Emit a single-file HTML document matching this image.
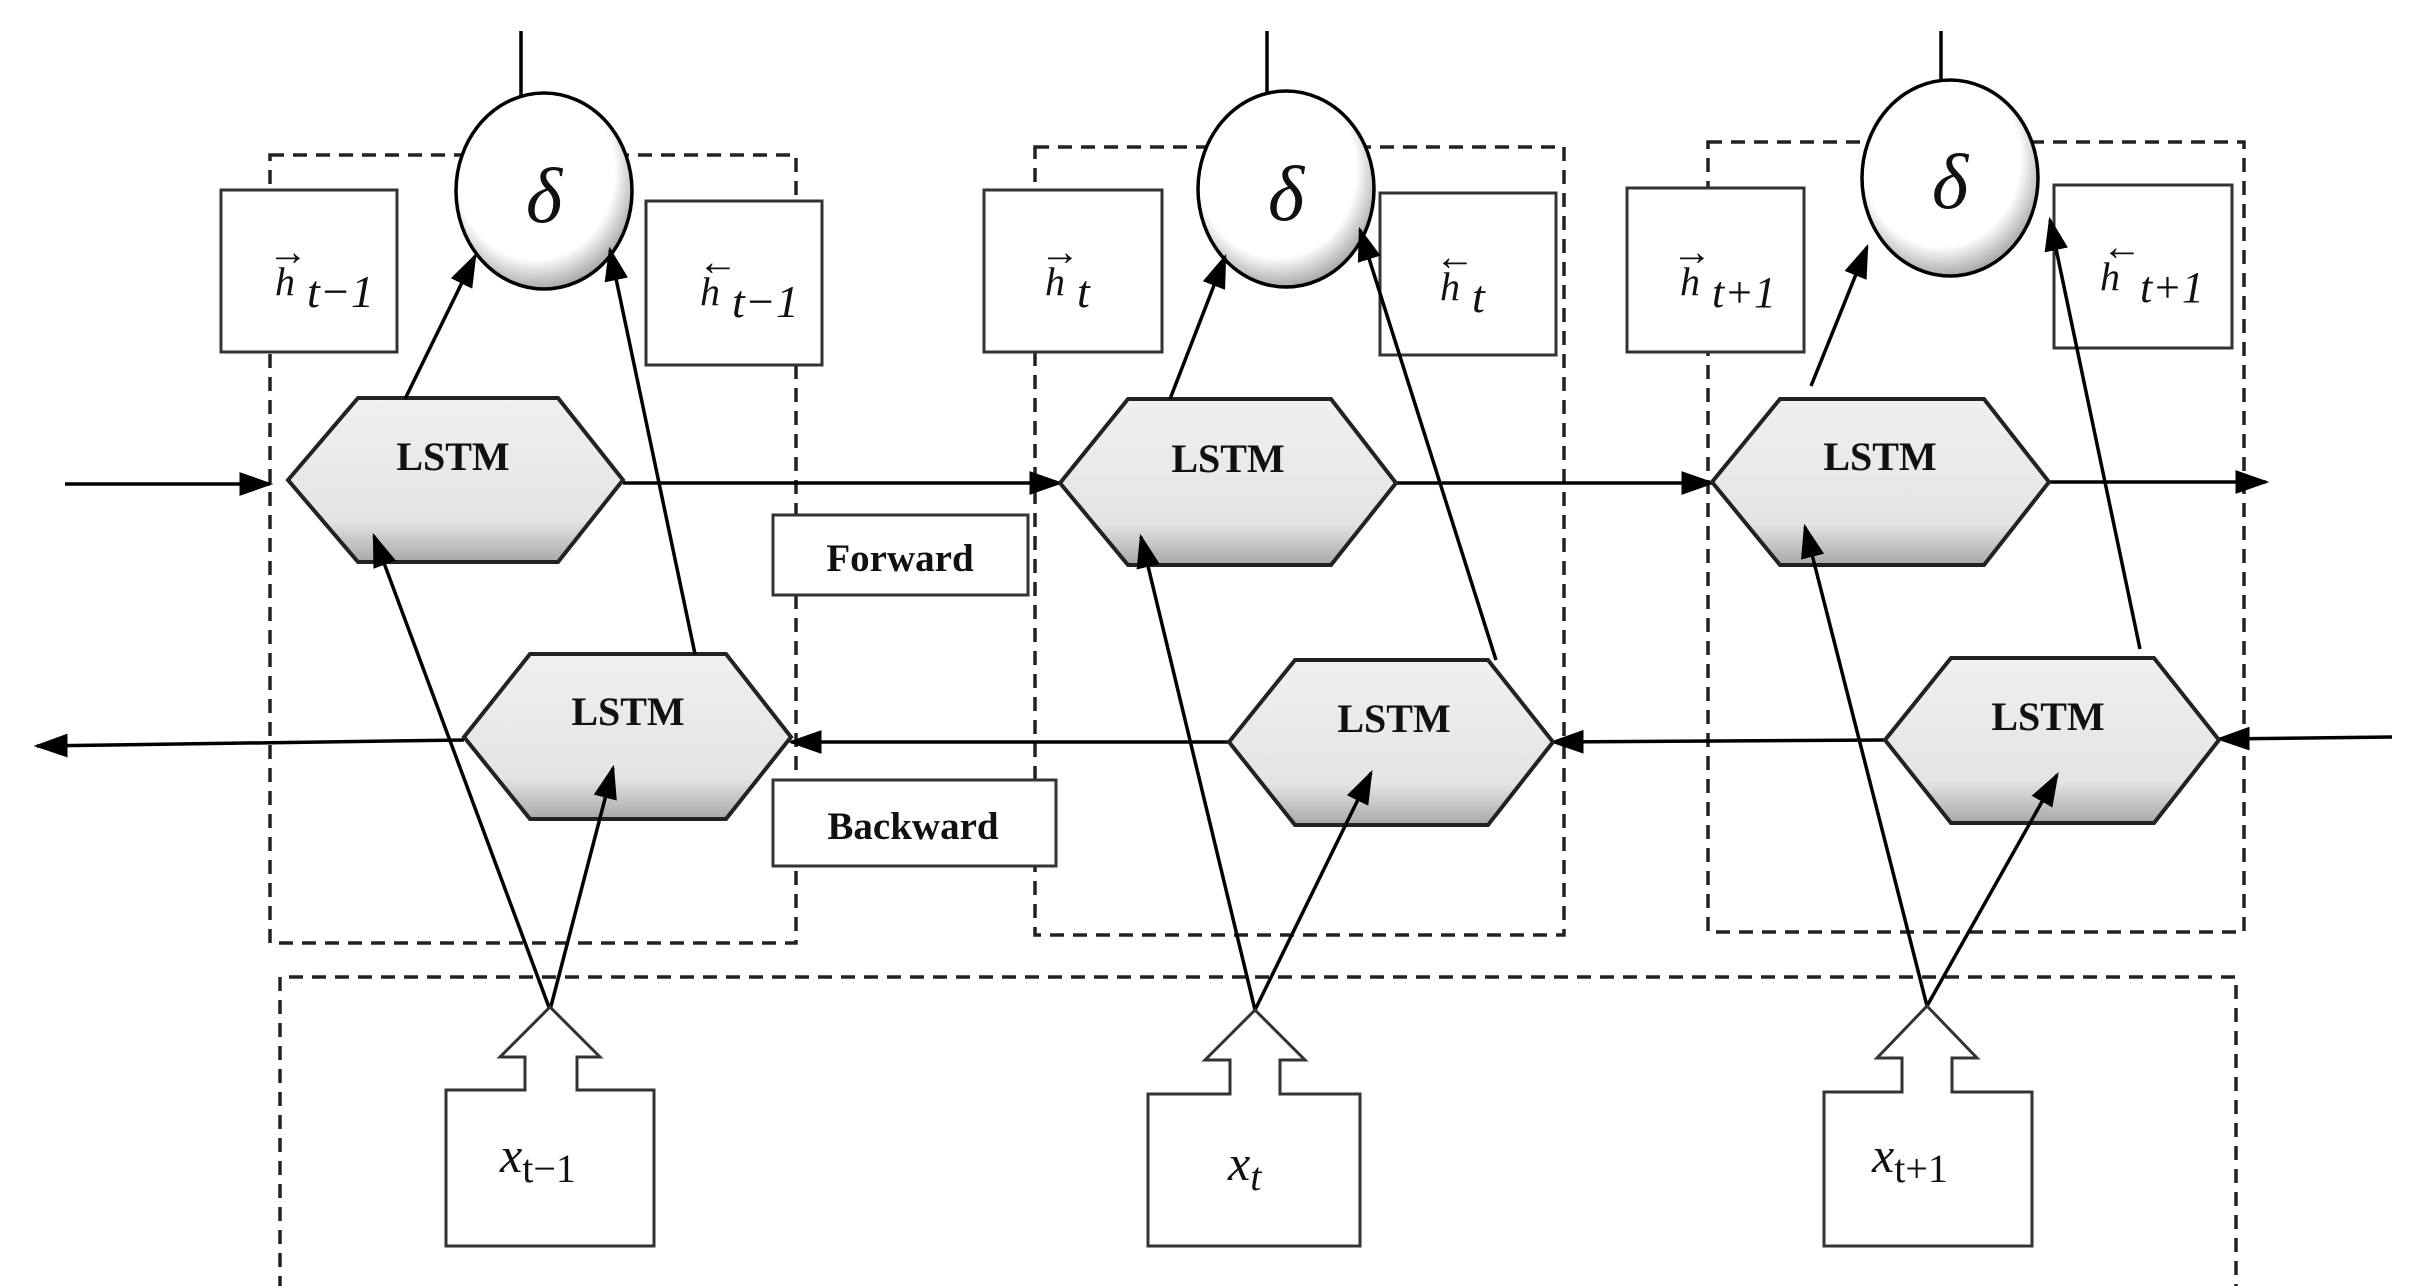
<!DOCTYPE html>
<html><head><meta charset="utf-8"><style>
html,body{margin:0;padding:0;background:#fff;}
svg{display:block;}
text{font-family:"Liberation Serif",serif;fill:#111;}
</style></head><body>
<svg width="2411" height="1286" viewBox="0 0 2411 1286" xmlns="http://www.w3.org/2000/svg">
<defs>
<marker id="b" viewBox="0 0 10 10" refX="9" refY="5" markerWidth="34" markerHeight="34" markerUnits="userSpaceOnUse" orient="auto"><path d="M0,1.5 L10,5 L0,8.5z" fill="#000"/></marker>
<linearGradient id="g" x1="0" y1="0" x2="0" y2="1"><stop offset="0" stop-color="#f0f0f0"/><stop offset="0.75" stop-color="#e4e4e4"/><stop offset="1" stop-color="#a8a8a8"/></linearGradient>
<radialGradient id="c" cx="0.45" cy="0.4" r="0.6"><stop offset="0.75" stop-color="#fff"/><stop offset="1" stop-color="#aaa"/></radialGradient>
</defs>
<g fill="none" stroke="#222" stroke-width="3.5" stroke-dasharray="14,9">
<rect x="270" y="155" width="526" height="788"/>
<rect x="1035" y="147" width="529" height="788"/>
<rect x="1708" y="142" width="536" height="790"/>
<path d="M280,1290 V977 H2236 V1290"/>
</g>
<g stroke="#000" stroke-width="3.5">
<line x1="521" y1="31" x2="521" y2="100"/>
<line x1="1267" y1="31" x2="1267" y2="100"/>
<line x1="1941" y1="31" x2="1941" y2="90"/>
</g>
<g stroke="#000" stroke-width="3.5" fill="url(#c)">
<ellipse cx="544" cy="191" rx="88" ry="98"/>
<ellipse cx="1286" cy="189" rx="88" ry="98"/>
<ellipse cx="1950" cy="178" rx="88" ry="98"/>
</g>
<g font-size="78" font-style="italic" text-anchor="middle">
<text x="544" y="222">δ</text><text x="1286" y="220">δ</text><text x="1950" y="208">δ</text>
</g>
<g fill="#fff" stroke="#333" stroke-width="3">
<rect x="221" y="190" width="176" height="162"/>
<rect x="646" y="201" width="176" height="164"/>
<rect x="984" y="190" width="178" height="162"/>
<rect x="1380" y="193" width="176" height="162"/>
<rect x="1627" y="188" width="177" height="164"/>
<rect x="2054" y="185" width="178" height="163"/>
</g>
<g font-size="40" font-style="italic">
<text x="275" y="295">h<tspan font-size="46" dx="12" dy="12">t−1</tspan></text>
<text x="700" y="305">h<tspan font-size="46" dx="12" dy="12">t−1</tspan></text>
<text x="1045" y="295">h<tspan font-size="46" dx="12" dy="12">t</tspan></text>
<text x="1440" y="300">h<tspan font-size="46" dx="12" dy="12">t</tspan></text>
<text x="1680" y="295">h<tspan font-size="44" dx="12" dy="12">t+1</tspan></text>
<text x="2100" y="290">h<tspan font-size="44" dx="20" dy="12">t+1</tspan></text>
</g>
<g font-size="40" text-anchor="middle">
<text x="288" y="265">→</text><text x="718" y="275">←</text>
<text x="1060" y="265">→</text><text x="1455" y="270">←</text>
<text x="1692" y="265">→</text><text x="2122" y="260">←</text>
</g>
<g stroke="#000" stroke-width="3.5" fill="none" marker-end="url(#b)">
<line x1="65" y1="484" x2="270" y2="484"/>
<line x1="623" y1="483" x2="1060" y2="483"/>
<line x1="1396" y1="483" x2="1712" y2="483"/>
<line x1="2049" y1="482" x2="2266" y2="482"/>
<line x1="464" y1="740" x2="37" y2="746"/>
<line x1="1229" y1="742" x2="791" y2="742"/>
<line x1="1885" y1="740" x2="1553" y2="742"/>
<line x1="2392" y1="737" x2="2219" y2="739"/>
</g>
<g stroke="#222" stroke-width="4" fill="url(#g)">
<polygon points="288,480 358,398 558,398 623,480 558,562 358,562"/>
<polygon points="1060,483 1128,399 1331,399 1396,483 1331,565 1128,565"/>
<polygon points="1712,482 1780,399 1984,399 2049,482 1984,565 1780,565"/>
<polygon points="464,737 530,654 726,654 791,737 726,819 530,819"/>
<polygon points="1229,742 1295,660 1488,660 1553,742 1488,825 1295,825"/>
<polygon points="1885,740 1951,658 2154,658 2219,740 2154,823 1951,823"/>
</g>
<g font-size="40" font-weight="bold" text-anchor="middle" fill="#222">
<text x="453" y="470">LSTM</text><text x="1228" y="472">LSTM</text><text x="1880" y="470">LSTM</text>
<text x="628" y="725">LSTM</text><text x="1394" y="732">LSTM</text><text x="2048" y="730">LSTM</text>
</g>
<g stroke="#000" stroke-width="3.5" marker-end="url(#b)">
<line x1="405" y1="399" x2="475" y2="256"/>
<line x1="695" y1="654" x2="610" y2="250"/>
<line x1="1170" y1="399" x2="1225" y2="257"/>
<line x1="1496" y1="660" x2="1360" y2="230"/>
<line x1="1811" y1="386" x2="1867" y2="247"/>
<line x1="2140" y1="649" x2="2050" y2="220"/>
<line x1="550" y1="1010" x2="374" y2="536"/>
<line x1="550" y1="1010" x2="613" y2="768"/>
<line x1="1255" y1="1010" x2="1141" y2="537"/>
<line x1="1255" y1="1010" x2="1371" y2="773"/>
<line x1="1927" y1="1006" x2="1805" y2="527"/>
<line x1="1927" y1="1006" x2="2057" y2="775"/>
</g>
<g fill="#fff" stroke="#333" stroke-width="3">
<rect x="773" y="515" width="255" height="80"/>
<rect x="773" y="780" width="283" height="86"/>
</g>
<g font-size="39" font-weight="bold" text-anchor="middle">
<text x="900" y="571">Forward</text><text x="913" y="839">Backward</text>
</g>
<g fill="#fff" stroke="#333" stroke-width="3">
<path d="M446,1246 V1090 H525 V1057 H500 L550,1007 L600,1057 H577 V1090 H654 V1246 Z"/>
<path d="M1148,1246 V1094 H1230 V1060 H1205 L1255,1010 L1305,1060 H1280 V1094 H1360 V1246 Z"/>
<path d="M1824,1246 V1092 H1902 V1058 H1877 L1927,1006 L1977,1058 H1952 V1092 H2032 V1246 Z"/>
</g>
<g font-size="50" font-style="italic">
<text x="500" y="1172">x<tspan font-size="40" dy="10" font-style="normal">t−1</tspan></text>
<text x="1228" y="1180">x<tspan font-size="40" dy="10">t</tspan></text>
<text x="1872" y="1172">x<tspan font-size="40" dy="10" font-style="normal">t+1</tspan></text>
</g>
</svg>
</body></html>
